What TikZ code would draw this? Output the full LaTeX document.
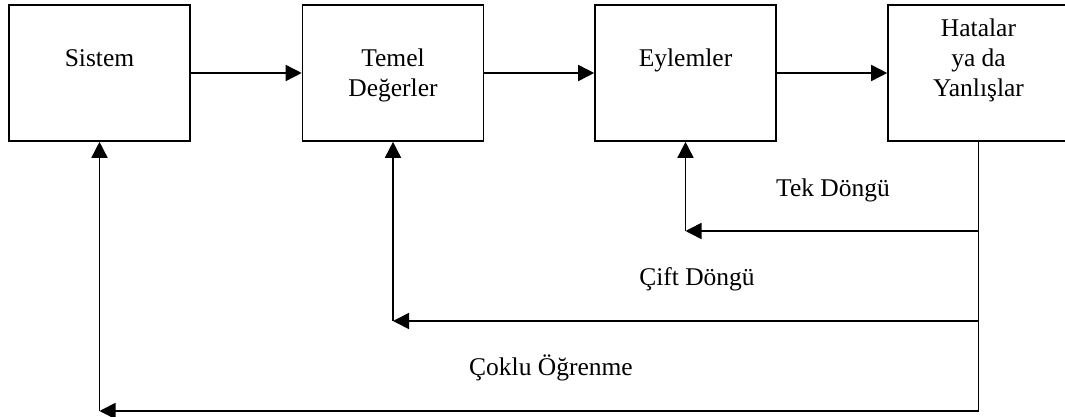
\documentclass[tikz,border=0pt]{standalone}
\usepackage{fontspec}
\setmainfont{Liberation Serif}
\usetikzlibrary{arrows.meta}

\begin{document}
\begin{tikzpicture}[x=1pt, y=-1pt, line width=1.6pt,
  ok/.style={-{Triangle[length=16pt,width=16pt]}},
  kutu/.style={draw, minimum width=181pt, minimum height=136pt, inner sep=0pt},
  yazi/.style={font=\fontsize{25.5}{30}\selectfont, align=center, inner sep=0pt, anchor=base}]
\useasboundingbox (0,0) rectangle (1065,417);
\node[kutu] (sistem) at (99.5,73) {};
\node[kutu] (temel) at (393,73) {};
\node[kutu] (eylemler) at (685.5,73) {};
\node[kutu] (hatalar) at (978.5,73) {};
\node[yazi] (sistemyazi) at ([yshift=-62pt]sistem.north) {Sistem};
\node[yazi] (temelyazi) at ([yshift=-92pt]temel.north) {Temel\\Değerler};
\node[yazi] (eylemleryazi) at ([yshift=-62pt]eylemler.north) {Eylemler};
\node[yazi] (hatalaryazi) at ([yshift=-92pt]hatalar.north) {Hatalar\\ya da\\Yanlışlar};
\draw[ok] (sistem) -- (temel);
\draw[ok] (temel) -- (eylemler);
\draw[ok] (eylemler) -- (hatalar);
% geri besleme donguleri
\coordinate (tek) at (0,231);
\coordinate (cift) at (0,321);
\coordinate (coklu) at (0,411);
\draw (hatalar.south) -- (hatalar.south |- coklu);
\draw[ok] (hatalar.south |- tek) -- (eylemler.south |- tek);
\draw[ok] (eylemler.south |- tek) -- (eylemler.south);
\draw[ok] (hatalar.south |- cift) -- (temel.south |- cift);
\draw[ok] (temel.south |- cift) -- (temel.south);
\draw[ok] (hatalar.south |- coklu) -- (sistem.south |- coklu);
\draw[ok] (sistem.south |- coklu) -- (sistem.south);
\node[yazi] (tekyazi) at (833,196) {Tek Döngü};
\node[yazi] (ciftyazi) at (697,285) {Çift Döngü};
\node[yazi] (cokluyazi) at (551,375) {Çoklu Öğrenme};
\end{tikzpicture}
\end{document}
